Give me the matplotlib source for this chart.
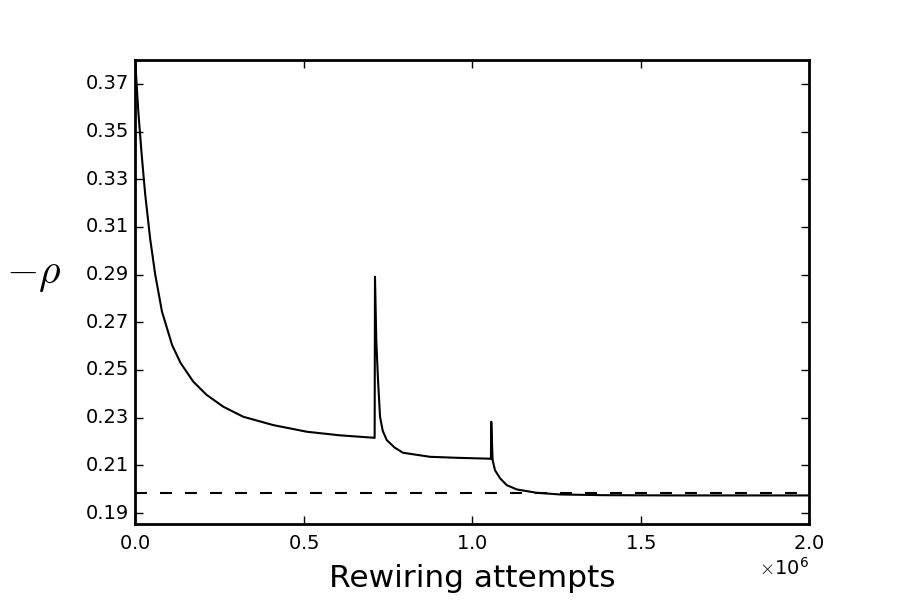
import numpy as np
import matplotlib
matplotlib.use("Agg")
import matplotlib.pyplot as plt

plt.style.use('classic')
plt.rcParams['lines.scale_dashes'] = False

# rewiring attempts (millions) and the measured -rho
attempts = [0.000, 0.010, 0.020, 0.030, 0.045, 0.060, 0.080, 0.110, 0.135,
            0.173, 0.213, 0.262, 0.321, 0.41, 0.51, 0.608, 0.707, 0.711,
            0.712, 0.716, 0.721, 0.727, 0.735, 0.747, 0.77, 0.795, 0.875,
            0.95, 1.053, 1.056, 1.057, 1.061, 1.068, 1.083, 1.103, 1.133,
            1.192, 1.261, 1.389, 1.6, 2.0]
neg_rho = [0.381, 0.358, 0.340, 0.324, 0.305, 0.290, 0.2745, 0.2605, 0.253,
           0.2451, 0.2395, 0.2346, 0.2304, 0.2269, 0.2241, 0.2226, 0.2216, 0.2215,
           0.2891, 0.262, 0.2458, 0.2304, 0.2245, 0.2206, 0.2175, 0.2153, 0.2136,
           0.2132, 0.2128, 0.2127, 0.2283, 0.2122, 0.2080, 0.2046, 0.2017, 0.1999,
           0.1985, 0.1978, 0.1975, 0.1974, 0.1974]
target = 0.1983
yticks = [0.19, 0.21, 0.23, 0.25, 0.27, 0.29, 0.31, 0.33, 0.35, 0.37]

x = np.array(attempts) * 1e6

fig = plt.figure(figsize=(9, 6), dpi=100, facecolor='white')
ax = fig.add_subplot(111)
fig.subplots_adjust(left=0.15, right=0.899, bottom=0.127, top=0.9)

ax.plot([0, 2e6], [target, target], color='black', linewidth=1.5, dashes=(8.6, 9.4))
ax.plot(x, neg_rho, color='black', linewidth=1.5)

ax.set_xlim(0, 2e6)
ax.set_ylim(0.1855, 0.38)
ax.set_yticks(yticks)
ax.set_xticks([0, 0.5e6, 1.0e6, 1.5e6, 2.0e6])
ax.ticklabel_format(axis='x', style='sci', scilimits=(0, 0), useMathText=True)
ax.xaxis.get_offset_text().set_fontsize(14)

for s in ax.spines.values():
    s.set_linewidth(2)
ax.tick_params(labelsize=14, length=6, width=1, direction='in')
ax.tick_params(axis='x', pad=7)

ax.set_xlabel('Rewiring attempts', fontsize=22.5, labelpad=8)
ax.set_ylabel(r'$-\rho$', fontsize=30, rotation=0, ha='center', va='center')
ax.yaxis.set_label_coords(-0.151, 0.54)

fig.savefig('out.png', dpi=100, facecolor='white')
